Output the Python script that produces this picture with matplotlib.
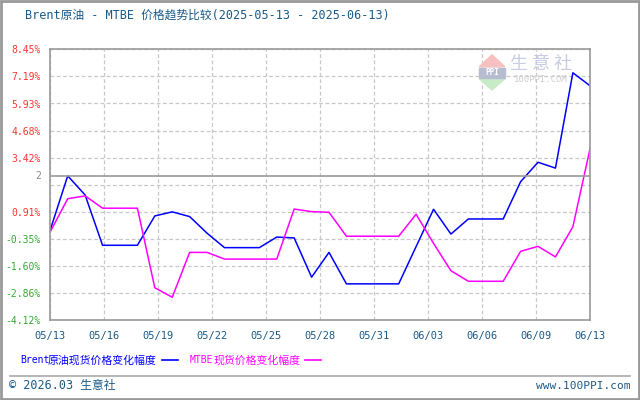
import numpy as np
import matplotlib
matplotlib.use("Agg")
import matplotlib.pyplot as plt
from matplotlib.patches import Rectangle, Polygon
from matplotlib.lines import Line2D

plt.rcParams['font.family'] = ['DejaVu Sans Mono', 'Noto Sans CJK SC']

# Data: one point per day, 2025-05-13 .. 2025-06-13
brent = [0.08, 2.58, 1.69, -0.64, -0.64, -0.64, 0.72, 0.91, 0.69, -0.08,
         -0.75, -0.75, -0.75, -0.26, -0.30, -2.12, -0.97, -2.43, -2.43, -2.43,
         -2.43, -0.70, 1.03, -0.12, 0.58, 0.58, 0.58, 2.31, 3.21, 2.94,
         7.36, 6.75]
mtbe = [-0.01, 1.52, 1.65, 1.08, 1.08, 1.08, -2.61, -3.05, -0.97, -0.97,
        -1.28, -1.28, -1.28, -1.28, 1.04, 0.92, 0.89, -0.22, -0.22, -0.22,
        -0.22, 0.80, -0.55, -1.82, -2.31, -2.31, -2.31, -0.92, -0.69, -1.18,
        0.22, 3.90]
xlabels = ['05/13', '05/16', '05/19', '05/22', '05/25', '05/28', '05/31',
           '06/03', '06/06', '06/09', '06/13']
ylabels = ['-4.12%', '-2.86%', '-1.60%', '-0.35%', '0.91%', '',
           '3.42%', '4.68%', '5.93%', '7.19%', '8.45%']
ymin, ymax = -4.12, 8.45
ref_val = 2.58  # solid line labelled "2"

days = np.arange(len(brent))

fig = plt.figure(figsize=(6.4, 4.0), dpi=100)
ax = fig.add_axes([50.3/640, 79.7/400, 540/640, 271/400])

ax.plot(days, brent, color='#0000ff', lw=1.1)
ax.plot(days, mtbe, color='#ff00ff', lw=1.1)
ax.axhline(ref_val, color='#999999', lw=1.2)

ax.set_xlim(0, days[-1])
ax.set_ylim(ymin, ymax)
xt = np.linspace(0, days[-1], len(xlabels))
yt = np.linspace(ymin, ymax, len(ylabels))
ax.set_xticks(xt)
ax.set_xticklabels(xlabels, fontsize=7.5, color='#1a5a8a')
ax.set_yticks(yt)
ax.set_yticklabels(ylabels, fontsize=7)
for lab, v in zip(ax.get_yticklabels(), yt):
    lab.set_color('#ff3333' if v > 0 else '#33aa33')
ax.tick_params(length=0)
ax.tick_params(axis='x', pad=8)
ax.tick_params(axis='y', pad=7)
ax.grid(True, color='#c8c8c8', ls=(0, (3, 2)), lw=0.9)
for s in ax.spines.values():
    s.set_color('#999999')
    s.set_linewidth(1.2)
ax.text(-0.016, ref_val, '2', transform=ax.get_yaxis_transform(),
        ha='right', va='center', fontsize=7, color='#888888')

# watermark
wx, wy = 492 / 640, 1 - 70 / 400
fig.patches.append(Polygon([[wx - 0.02, wy + 0.008], [wx + 0.02, wy + 0.008], [wx, wy + 0.038]],
                           closed=True, transform=fig.transFigure, color='#f7c0c0'))
fig.patches.append(Polygon([[wx - 0.02, wy - 0.022], [wx + 0.02, wy - 0.022], [wx, wy - 0.05]],
                           closed=True, transform=fig.transFigure, color='#c8ecc8'))
fig.patches.append(Rectangle((wx - 0.02, wy - 0.02), 0.04, 0.026, transform=fig.transFigure,
                             color='#b8bcd0'))
fig.text(wx, wy - 0.007, 'PPI', ha='center', va='center', fontsize=5.5, color='white',
         weight='bold')
fig.text(541 / 640, 1 - 64 / 400, '生 意 社', ha='center', va='center', fontsize=13,
         color='#c8cce0', family=['Noto Sans CJK SC'])
fig.text(541 / 640, 1 - 80 / 400, '100PPI.COM', ha='center', va='center', fontsize=6.5,
         color='#cfcfcf')

# title
fig.text(25 / 640, 1 - 15 / 400, 'Brent原油 - MTBE 价格趋势比较(2025-05-13 - 2025-06-13)',
         ha='left', va='center', fontsize=8.5, color='#1a5a8a')

# legend
ly = 1 - 360 / 400
fig.text(20 / 640, ly, 'Brent', ha='left', va='center', fontsize=7, color='#0000ff')
fig.text(48 / 640, ly, '原油现货价格变化幅度', ha='left', va='center',
         fontsize=7.8, color='#0000ff', family=['Noto Sans CJK SC'])
fig.add_artist(Line2D([162 / 640, 178 / 640], [ly] * 2, color='#0000ff', lw=1.2))
fig.text(190 / 640, ly, 'MTBE', ha='left', va='center', fontsize=7, color='#ff00ff')
fig.text(214 / 640, ly, '现货价格变化幅度', ha='left', va='center',
         fontsize=7.8, color='#ff00ff', family=['Noto Sans CJK SC'])
fig.add_artist(Line2D([305 / 640, 321 / 640], [ly] * 2, color='#ff00ff', lw=1.2))

# footer
fig.add_artist(Line2D([10 / 640, 630 / 640], [1 - 376 / 400] * 2, color='#aaaaaa', lw=1.2))
fig.text(9 / 640, 1 - 386 / 400, '© 2026.03 生意社', ha='left', va='center', fontsize=8.5,
         color='#1a5a8a')
fig.text(630 / 640, 1 - 386 / 400, 'www.100PPI.com', ha='right', va='center', fontsize=8,
         color='#1a5a8a')

# outer frame
fig.patches.append(Rectangle((0.001, 0.002), 0.997, 0.996, transform=fig.transFigure,
                             fill=False, edgecolor='#999999', lw=2))

fig.savefig('out.png', dpi=100)
